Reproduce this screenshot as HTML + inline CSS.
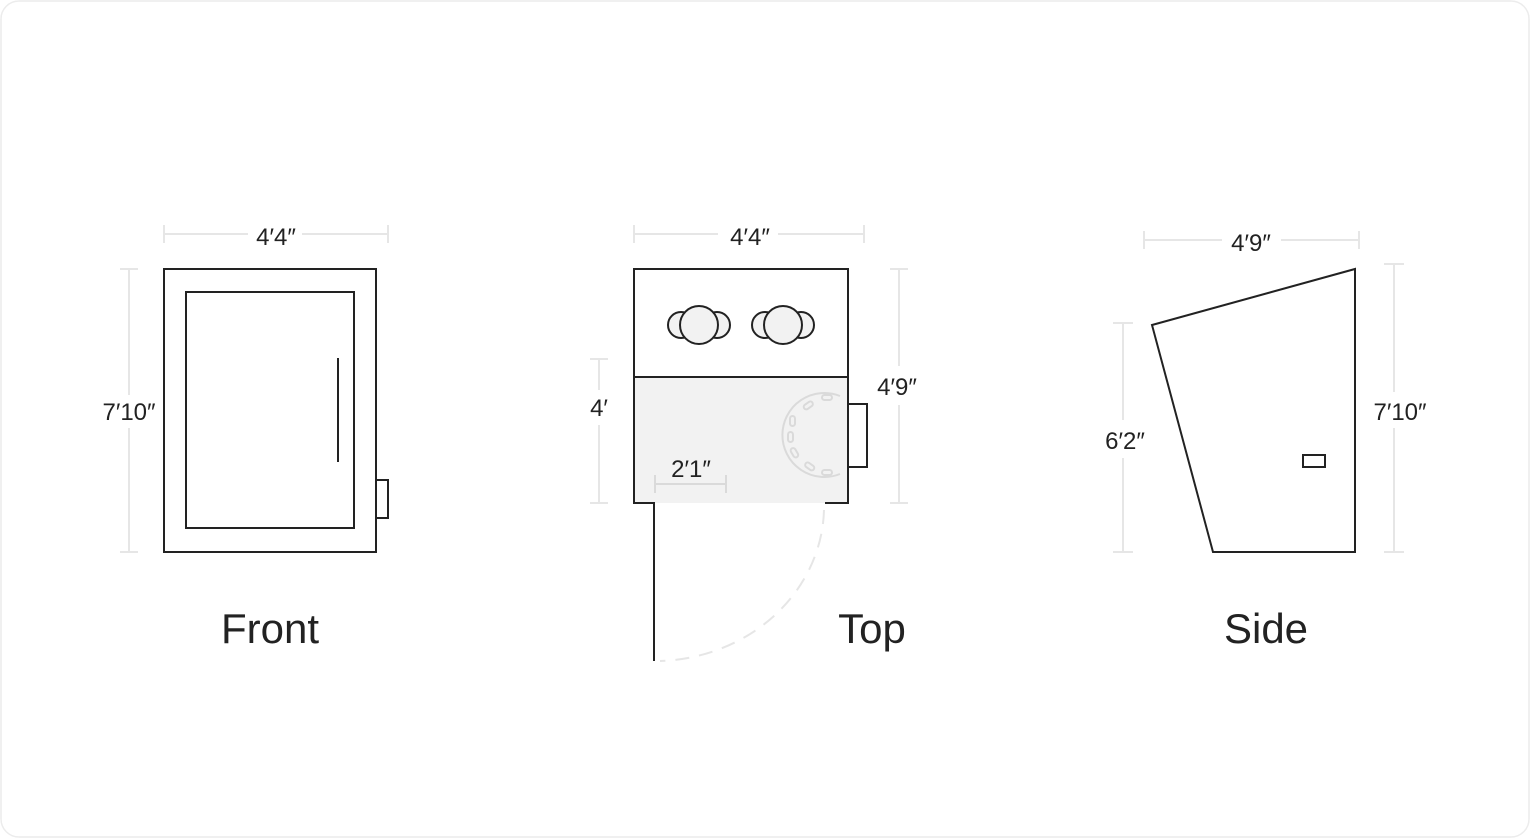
<!DOCTYPE html>
<html><head><style>
html,body{margin:0;padding:0;background:#fff;}
svg{display:block}
text{font-family:"Liberation Sans",sans-serif;fill:#222;}
</style></head><body>
<svg width="1530" height="839" viewBox="0 0 1530 839">
<rect x="1" y="1" width="1528" height="836" rx="18" fill="#fff" stroke="#ececec" stroke-width="1.5"/>
<g stroke="#e6e6e6" stroke-width="2" fill="none">
<!-- front dims -->
<line x1="164" y1="234" x2="248" y2="234"/><line x1="302" y1="234" x2="388" y2="234"/>
<line x1="164" y1="225" x2="164" y2="243"/><line x1="388" y1="225" x2="388" y2="243"/>
<line x1="129" y1="269" x2="129" y2="395"/><line x1="129" y1="428" x2="129" y2="552"/>
<line x1="120" y1="269" x2="138" y2="269"/><line x1="120" y1="552" x2="138" y2="552"/>
<!-- top dims -->
<line x1="634" y1="234" x2="718" y2="234"/><line x1="778" y1="234" x2="864" y2="234"/>
<line x1="634" y1="225" x2="634" y2="243"/><line x1="864" y1="225" x2="864" y2="243"/>
<line x1="599" y1="359" x2="599" y2="390"/><line x1="599" y1="425" x2="599" y2="503"/>
<line x1="590" y1="359" x2="608" y2="359"/><line x1="590" y1="503" x2="608" y2="503"/>
<line x1="899" y1="269" x2="899" y2="366"/><line x1="899" y1="405" x2="899" y2="503"/>
<line x1="890" y1="269" x2="908" y2="269"/><line x1="890" y1="503" x2="908" y2="503"/>
<!-- side dims -->
<line x1="1144" y1="240" x2="1222" y2="240"/><line x1="1281" y1="240" x2="1359" y2="240"/>
<line x1="1144" y1="231" x2="1144" y2="249"/><line x1="1359" y1="231" x2="1359" y2="249"/>
<line x1="1123" y1="323" x2="1123" y2="420"/><line x1="1123" y1="458" x2="1123" y2="552"/>
<line x1="1113" y1="323" x2="1133" y2="323"/><line x1="1113" y1="552" x2="1133" y2="552"/>
<line x1="1394" y1="264" x2="1394" y2="392"/><line x1="1394" y1="428" x2="1394" y2="552"/>
<line x1="1384" y1="264" x2="1404" y2="264"/><line x1="1384" y1="552" x2="1404" y2="552"/>
</g>
<g stroke="#222" stroke-width="2" fill="none">
<!-- front -->
<rect x="164" y="269" width="212" height="283"/>
<rect x="186" y="292" width="168" height="236"/>
<line x1="338" y1="358" x2="338" y2="462"/>
<rect x="376" y="480" width="12" height="38"/>
</g>
<!-- top -->
<rect x="634" y="377" width="214" height="126" fill="#f2f2f2"/>
<g stroke="#dadada" stroke-width="2" fill="none">
<line x1="655" y1="484" x2="726" y2="484"/><line x1="655" y1="475" x2="655" y2="493"/><line x1="726" y1="475" x2="726" y2="493"/>
<path d="M840 396 A42 42 0 1 0 840 474" />
<path d="M824 510 A170 155 0 0 1 660 661" stroke="#e6e6e6" stroke-dasharray="14 10"/>
</g>
<g fill="#f2f2f2" stroke="#dadada" stroke-width="2">
<rect x="822" y="395" width="10" height="5" rx="2.5"/><rect x="803" y="403" width="10" height="5" rx="2.5" transform="rotate(-35 808 405)"/>
<rect x="790" y="416" width="5" height="10" rx="2.5"/><rect x="788" y="432" width="5" height="10" rx="2.5"/>
<rect x="792" y="448" width="5" height="10" rx="2.5" transform="rotate(-30 794 453)"/><rect x="805" y="464" width="10" height="5" rx="2.5" transform="rotate(35 810 466)"/>
<rect x="822" y="470" width="10" height="5" rx="2.5"/>
</g>
<g stroke="#222" stroke-width="2" fill="none">
<path d="M654 661 L654 503 L634 503 L634 269 L848 269 L848 503 L825 503"/>
<line x1="634" y1="377" x2="848" y2="377"/>
<rect x="848" y="404" width="19" height="63"/>
</g>
<g stroke="#222" stroke-width="2" fill="#f2f2f2">
<circle cx="681" cy="325" r="13"/><circle cx="717" cy="325" r="13"/><circle cx="699" cy="325" r="19"/>
<circle cx="765" cy="325" r="13"/><circle cx="801" cy="325" r="13"/><circle cx="783" cy="325" r="19"/>
</g>
<!-- side -->
<g stroke="#222" stroke-width="2" fill="none">
<path d="M1152 325 L1355 269 L1355 552 L1213 552 Z"/>
<rect x="1303" y="455" width="22" height="12"/>
</g>
<g font-size="24">
<text x="276" y="245" text-anchor="middle">4′4″</text>
<text x="129" y="420" text-anchor="middle">7′10″</text>
<text x="750" y="245" text-anchor="middle">4′4″</text>
<text x="599" y="416" text-anchor="middle">4′</text>
<text x="897" y="395" text-anchor="middle">4′9″</text>
<text x="691" y="477" text-anchor="middle">2′1″</text>
<text x="1251" y="251" text-anchor="middle">4′9″</text>
<text x="1125" y="449" text-anchor="middle">6′2″</text>
<text x="1400" y="420" text-anchor="middle">7′10″</text>
</g>
<g font-size="42">
<text x="270" y="643" text-anchor="middle">Front</text>
<text x="872" y="643" text-anchor="middle">Top</text>
<text x="1266" y="643" text-anchor="middle">Side</text>
</g>
</svg>
</body></html>
